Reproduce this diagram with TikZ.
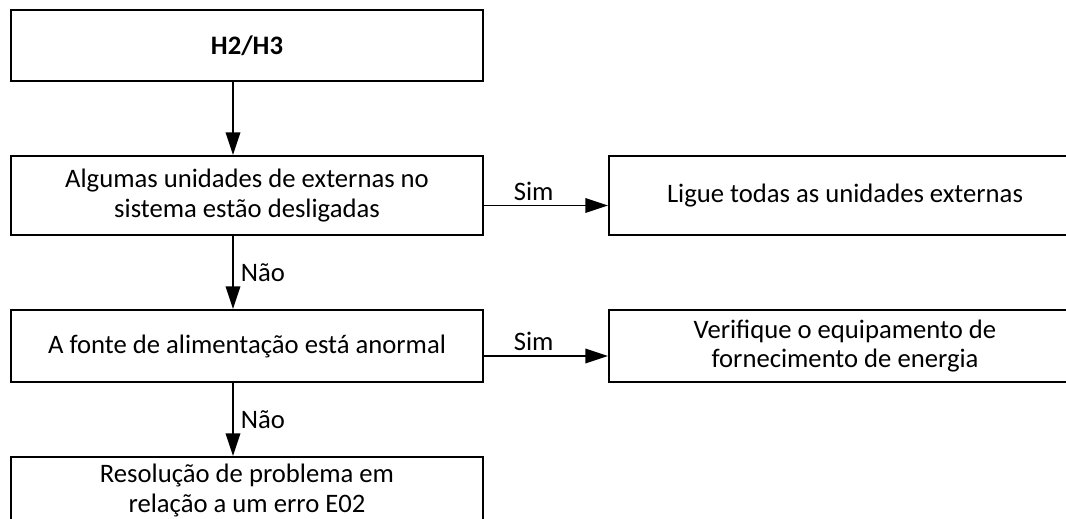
\documentclass[tikz,border=0pt]{standalone}
\usepackage{fontspec}
\setmainfont{Carlito}
\usetikzlibrary{arrows.meta,positioning}

\begin{document}
\begin{tikzpicture}[font=\fontsize{20}{22}\selectfont, >={Triangle[length=17pt,width=11pt]}, node distance=54.75pt and 93pt,
  box/.style={draw, line width=1.5pt, align=center, minimum width=354pt, inner sep=0pt},
  arrow/.style={->, line width=1.1pt}]
  \useasboundingbox (0,0) rectangle (799.5pt,-388.5pt);
  \node[box, minimum height=53.25pt, font=\fontsize{20}{22}\selectfont\bfseries, anchor=north west] (h23) at (7.5pt,-6.75pt) {H2/H3};
  \node[box, minimum height=59.25pt, below=of h23] (desl) {Algumas unidades de externas no\\sistema estão desligadas};
  \node[box, minimum height=59.25pt, right=of desl] (ligue) {Ligue todas as unidades externas};
  \node[box, minimum height=54pt, below=of desl] (fonte) {A fonte de alimentação está anormal};
  \node[box, minimum height=54pt, right=of fonte] (verif) {Verifique o equipamento de\\fornecimento de energia};
  \node[box, minimum height=50pt, below=of fonte] (erro) {Resolução de problema em\\relação a um erro E02};
  \draw[arrow] ([xshift=-10.5pt]h23.south) -- ([xshift=-10.5pt]desl.north);
  \draw[arrow] ([xshift=-10.5pt]desl.south) -- node[right, xshift=2pt] {Não} ([xshift=-10.5pt]fonte.north);
  \draw[arrow] ([xshift=-10.5pt]fonte.south) -- node[right, xshift=2pt] {Não} ([xshift=-10.5pt]erro.north);
  \draw[arrow] ([yshift=-7.5pt]desl.east) -- node[above, pos=0.4] {Sim} ([yshift=-7.5pt]desl.east -| ligue.west);
  \draw[arrow] ([yshift=-7.5pt]fonte.east) -- node[above, pos=0.4] {Sim} ([yshift=-7.5pt]fonte.east -| verif.west);
\end{tikzpicture}
\end{document}
